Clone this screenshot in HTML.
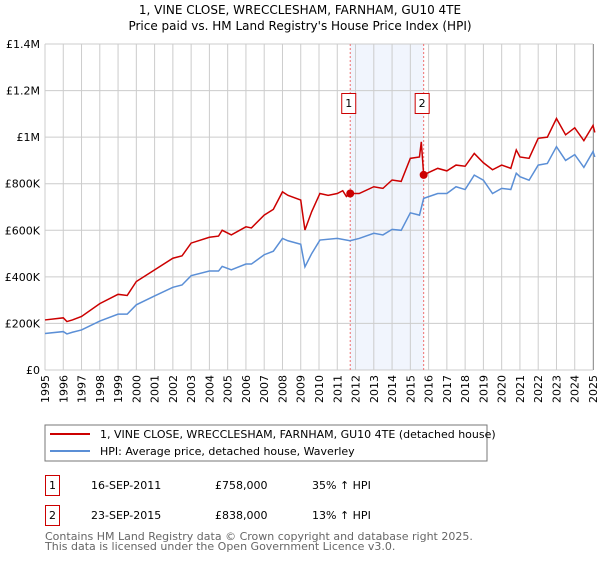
<!DOCTYPE html>
<html><head><meta charset="utf-8"><style>
body{margin:0;background:#fff;font-family:"DejaVu Sans","Liberation Sans",sans-serif;}
svg text{font-family:"DejaVu Sans","Liberation Sans",sans-serif;}
</style></head><body>
<svg id="chart" width="600" height="560" viewBox="0 0 600 560" xmlns="http://www.w3.org/2000/svg">
<text x="300" y="14" text-anchor="middle" font-size="12" fill="#000">1, VINE CLOSE, WRECCLESHAM, FARNHAM, GU10 4TE</text>
<text x="300" y="30" text-anchor="middle" font-size="12" fill="#000">Price paid vs. HM Land Registry's House Price Index (HPI)</text>
<g id="grid"></g>
<g id="series"></g>
<g id="axes"></g>
<rect x="45" y="425" width="442" height="36" fill="#fff" stroke="#777"/>
<line x1="50" y1="434" x2="90" y2="434" stroke="#cc0000" stroke-width="2"/>
<text x="100" y="438" font-size="11">1, VINE CLOSE, WRECCLESHAM, FARNHAM, GU10 4TE (detached house)</text>
<line x1="50" y1="451" x2="90" y2="451" stroke="#5b8fd6" stroke-width="2"/>
<text x="100" y="455" font-size="11">HPI: Average price, detached house, Waverley</text>
<g>
<rect x="45.5" y="475.5" width="14" height="20" fill="#fff" stroke="#cc0000"/>
<text x="52.5" y="489" font-size="11" text-anchor="middle">1</text>
<text x="91" y="489" font-size="11">16-SEP-2011</text>
<text x="215" y="489" font-size="11">£758,000</text>
<text x="312" y="489" font-size="11">35% ↑ HPI</text></g>
<g>
<rect x="45.5" y="505.5" width="14" height="20" fill="#fff" stroke="#cc0000"/>
<text x="52.5" y="519" font-size="11" text-anchor="middle">2</text>
<text x="91" y="519" font-size="11">23-SEP-2015</text>
<text x="215" y="519" font-size="11">£838,000</text>
<text x="312" y="519" font-size="11">13% ↑ HPI</text></g>
<text x="45" y="540" font-size="11" fill="#666">Contains HM Land Registry data © Crown copyright and database right 2025.</text>
<text x="45" y="550" font-size="11" fill="#666">This data is licensed under the Open Government Licence v3.0.</text>
</svg>
<script>
const NS="http://www.w3.org/2000/svg";
const yearTicks=[1995,1996,1997,1998,1999,2000,2001,2002,2003,2004,2005,2006,2007,2008,2009,2010,2011,2012,2013,2014,2015,2016,2017,2018,2019,2020,2021,2022,2023,2024,2025];
const valueTicks=[0,200000,400000,600000,800000,1000000,1200000,1400000];
const valueTickLabels=["£0","£200K","£400K","£600K","£800K","£1M","£1.2M","£1.4M"];
const hpiYears=[1995,1996,1996.2,1996.5,1997,1998,1999,1999.5,2000,2001,2002,2002.5,2003,2004,2004.5,2004.7,2005.2,2006,2006.3,2007,2007.5,2008,2008.3,2009,2009.23,2009.6,2010.05,2011,2011.7,2012.2,2013,2013.5,2014,2014.5,2015,2015.5,2015.73,2016.5,2017,2017.5,2018,2018.5,2019,2019.5,2020,2020.5,2020.8,2021,2021.5,2022,2022.5,2023,2023.5,2024,2024.5,2025,2025.1];
const hpiValues=[157000,165000,155000,162000,172000,210000,240000,240000,280000,318000,355000,365000,405000,425000,425000,445000,430000,455000,455000,495000,510000,565000,555000,540000,443000,500000,558000,565000,555000,565000,587000,580000,604000,600000,675000,665000,737000,758000,758000,787000,775000,837000,815000,758000,780000,775000,845000,830000,815000,880000,887000,959000,900000,925000,870000,938000,915000];
const priceYears=[1995,1996,1996.2,1996.5,1997,1998,1999,1999.5,2000,2001,2002,2002.5,2003,2004,2004.5,2004.7,2005.2,2006,2006.3,2007,2007.5,2008,2008.3,2009,2009.23,2009.6,2010.05,2010.5,2011,2011.3,2011.5,2011.7,2012.2,2013,2013.5,2014,2014.5,2015,2015.5,2015.6,2015.73,2016.5,2017,2017.5,2018,2018.5,2019,2019.5,2020,2020.5,2020.8,2021,2021.5,2022,2022.5,2023,2023.5,2024,2024.5,2025,2025.1];
const priceValues=[215000,224000,208000,215000,230000,285000,325000,320000,380000,430000,480000,490000,545000,570000,575000,600000,580000,615000,610000,665000,690000,765000,750000,730000,601000,680000,758000,750000,758000,770000,745000,758000,758000,787000,780000,816000,810000,909000,915000,980000,838000,866000,855000,880000,875000,930000,890000,860000,880000,866000,945000,915000,909000,995000,1000000,1080000,1010000,1040000,985000,1050000,1020000];
const saleYears=[2011.71,2015.73];
const salePrices=[758000,838000];
const saleLabels=["1","2"];
const X0=45,X1=593,Y0=370,Y1=44;
const xs=y=>X0+(y-1995)/30*(X1-X0);
const ys=v=>Y0-v/1400000*(Y0-Y1);
const grid=document.getElementById('grid'),series=document.getElementById('series'),axes=document.getElementById('axes');
function mk(tag,attrs,parent){const e=document.createElementNS(NS,tag);for(const k in attrs)e.setAttribute(k,attrs[k]);parent.appendChild(e);return e;}
const band=mk('rect',{x:xs(saleYears[0]),y:Y1,width:xs(saleYears[1])-xs(saleYears[0]),height:Y0-Y1,fill:'#eef3fd',opacity:0.8},grid);


yearTicks.forEach(yr=>{const l=mk('line',{x1:xs(yr),x2:xs(yr),y1:Y1,y2:Y0,stroke:'#ccc','stroke-width':1},grid);


const t=mk('text',{transform:`translate(${xs(yr)+4},${Y0+33}) rotate(-90)`,'font-size':11},axes);t.textContent=yr;

});
valueTicks.forEach((v,i)=>{const l=mk('line',{x1:X0,x2:X1,y1:ys(v),y2:ys(v),stroke:'#ccc','stroke-width':1},grid);


const t=mk('text',{x:40,y:ys(v)+4,'text-anchor':'end','font-size':11},axes);t.textContent=valueTickLabels[i];

});
const edge=mk('line',{x1:X1+0.5,x2:X1+0.5,y1:Y1,y2:Y0,stroke:'#999','stroke-width':1},grid);


saleYears.forEach((yr,i)=>{const l=mk('line',{x1:xs(yr),x2:xs(yr),y1:Y1,y2:Y0,stroke:'#f07070','stroke-dasharray':'2,2'},grid);

});
const hp=mk('polyline',{points:hpiYears.map((y,i)=>xs(y)+','+ys(hpiValues[i])).join(' '),fill:'none',stroke:'#5b8fd6','stroke-width':1.5},series);


const pp=mk('polyline',{points:priceYears.map((y,i)=>xs(y)+','+ys(priceValues[i])).join(' '),fill:'none',stroke:'#cc0000','stroke-width':1.5},series);


saleYears.forEach((yr,i)=>{const c=mk('circle',{cx:xs(yr),cy:ys(salePrices[i]),r:4,fill:'#cc0000'},series);


const r=mk('rect',{x:xs(yr)-8.5,y:93.5,width:14,height:20,fill:'#fff',stroke:'#cc0000'},series);


const t=mk('text',{x:xs(yr)-1.5,y:107,'text-anchor':'middle','font-size':11},series);t.textContent=saleLabels[i];

});
</script>
</body></html>
